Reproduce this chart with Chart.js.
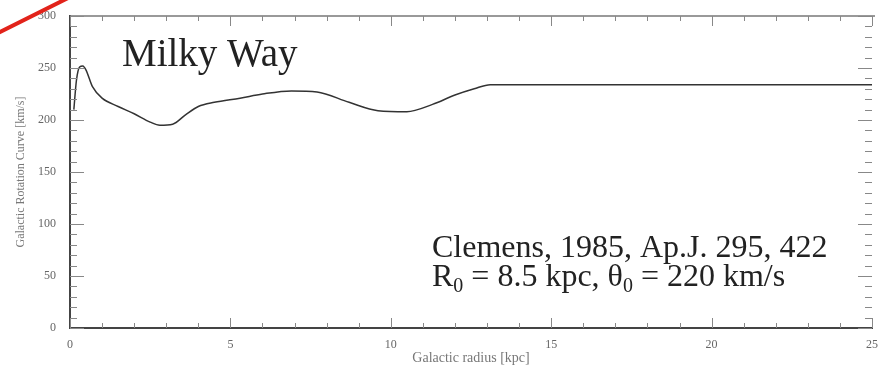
<!DOCTYPE html>
<html>
<head>
<meta charset="utf-8">
<script src="https://cdn.jsdelivr.net/npm/chart.js@4"></script>
<style>
  html, body { margin: 0; padding: 0; background: #fff; }
  #wrap { width: 882px; height: 367px; position: relative; }
</style>
</head>
<body>
<div id="wrap"><canvas id="rot"></canvas></div>
<script>
// ── Data ──
const radius = [0.12, 0.2, 0.3, 0.4, 0.5, 0.7, 1.0, 1.5, 2.0, 2.5, 2.8, 3.2, 3.6, 4.0, 4.5, 5.3, 6.0, 6.9, 7.7, 8.7, 9.6, 10.5, 11.3, 12.0, 12.6, 13.1, 25];
const velocity = [210, 238, 251, 252, 248, 232, 221, 213, 206, 198, 195, 196, 205, 213, 217, 221, 225, 228, 227, 217, 209, 208, 215, 224, 230, 234, 234];
const xTicks = [0, 5, 10, 15, 20, 25];
const yTicks = [0, 50, 100, 150, 200, 250, 300];

const SERIF = "'Liberation Serif', 'DejaVu Serif', serif";
const AXIS = '#666';

// ── Frame, inward ticks, annotations ──
const decor = {
  id: 'decor',
  afterDraw(c) {
    const { ctx, chartArea: a, scales: { x, y } } = c;
    ctx.save();
    // top frame
    ctx.strokeStyle = '#777';
    ctx.lineWidth = 1.5;
    ctx.beginPath();
    ctx.moveTo(a.left, a.top); ctx.lineTo(a.right + 3, a.top);
    ctx.stroke();

    // x ticks (every 1 kpc, major every 5)
    ctx.strokeStyle = '#888';
    ctx.lineWidth = 1;
    ctx.beginPath();
    for (let v = 0; v <= 25; v++) {
      const px = Math.round(x.getPixelForValue(v)) + 0.5;
      const len = v % 5 === 0 ? 10 : 5;
      ctx.moveTo(px, a.bottom); ctx.lineTo(px, a.bottom - len);
      ctx.moveTo(px, a.top); ctx.lineTo(px, a.top + len);
    }
    // y ticks (every 10, major every 50)
    for (let v = 0; v <= 300; v += 10) {
      const py = Math.round(y.getPixelForValue(v)) + 0.5;
      const len = v % 50 === 0 ? 14 : 7;
      ctx.moveTo(a.left, py); ctx.lineTo(a.left + len, py);
      ctx.moveTo(a.right, py); ctx.lineTo(a.right - len, py);
    }
    ctx.stroke();

    // annotations
    ctx.fillStyle = '#222';
    ctx.textBaseline = 'alphabetic';
    ctx.font = `39px ${SERIF}`;
    ctx.fillText('Milky Way', 122, 66);

    ctx.font = `32px ${SERIF}`;
    ctx.fillText('Clemens, 1985, Ap.J. 295, 422', 432, 257);

    const parts = [['R', 0], ['0', 1], [' = 8.5 kpc, θ', 0], ['0', 1], [' = 220 km/s', 0]];
    let cx = 432;
    parts.forEach(([t, sub]) => {
      ctx.font = sub ? `20px ${SERIF}` : `32px ${SERIF}`;
      ctx.fillText(t, cx, sub ? 292 : 286);
      cx += ctx.measureText(t).width;
    });

    // red stroke in the corner
    ctx.strokeStyle = '#e2231a';
    ctx.lineWidth = 4;
    ctx.beginPath();
    ctx.moveTo(-2, 33); ctx.lineTo(68, -2);
    ctx.stroke();
    ctx.restore();
  }
};

new Chart(document.getElementById('rot'), {
  type: 'scatter',
  data: {
    datasets: [{
      data: radius.map((r, i) => ({ x: r, y: velocity[i] })),
      showLine: true,
      borderColor: '#333',
      borderWidth: 1.5,
      pointRadius: 0,
      tension: 0.4,
      cubicInterpolationMode: 'monotone',
    }],
  },
  options: {
    responsive: true,
    maintainAspectRatio: false,
    animation: false,
    layout: { padding: { top: 16, right: 10, left: 0, bottom: 0 } },
    plugins: { legend: { display: false }, tooltip: { enabled: false } },
    scales: {
      x: {
        type: 'linear', min: 0, max: 25,
        afterBuildTicks: s => { s.ticks = xTicks.map(v => ({ value: v })); },
        afterFit: s => { s.height = 39; },
        grid: { display: false },
        border: { display: true, color: '#444', width: 2 },
        ticks: { color: AXIS, font: { family: SERIF, size: 12 }, padding: 2, maxRotation: 0 },
        title: { display: true, text: 'Galactic radius [kpc]', color: '#777', font: { family: SERIF, size: 14 }, padding: { top: 0, bottom: 0 } },
      },
      y: {
        type: 'linear', min: 0, max: 300,
        afterBuildTicks: s => { s.ticks = yTicks.map(v => ({ value: v })); },
        afterFit: s => { s.width = 70; },
        grid: { display: false },
        border: { display: true, color: '#444', width: 2 },
        ticks: { color: AXIS, font: { family: SERIF, size: 12 }, padding: 6 },
        title: { display: true, text: 'Galactic Rotation Curve [km/s]', color: '#777', font: { family: SERIF, size: 12 }, padding: { top: 14, bottom: 0 } },
      },
    },
  },
  plugins: [decor],
});
</script>
</body>
</html>
